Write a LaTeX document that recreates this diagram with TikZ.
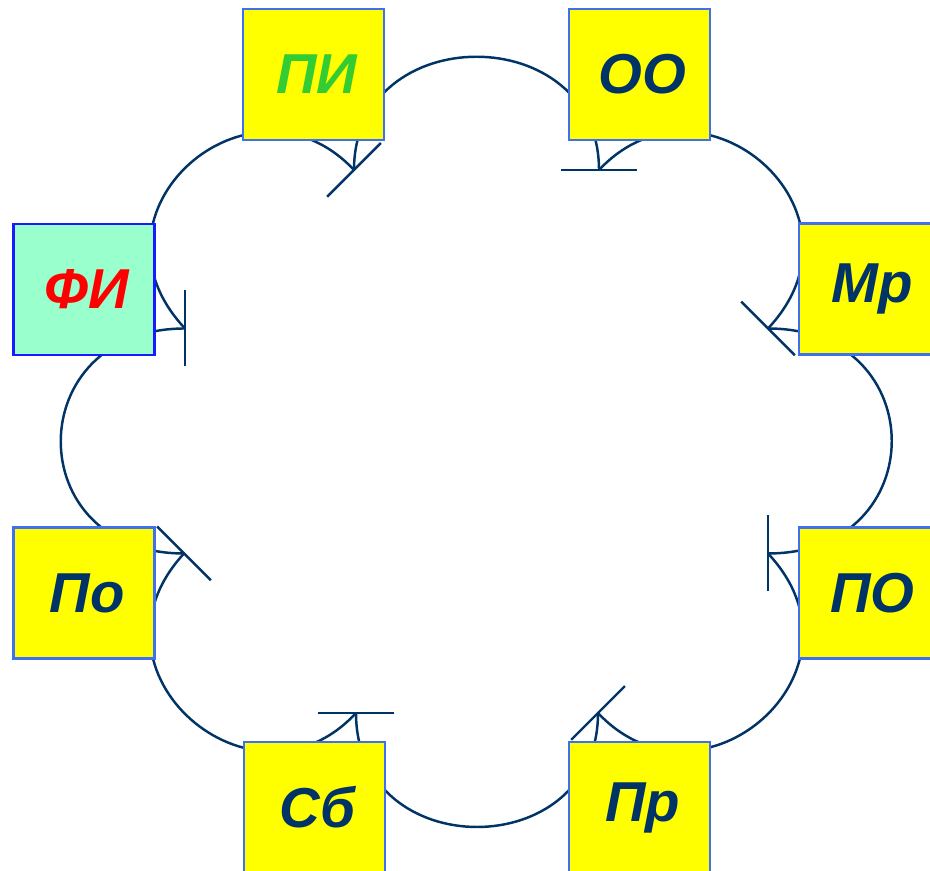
\documentclass[tikz,border=0pt]{standalone}
\usepackage{fontspec}
\setmainfont{Liberation Sans}

\definecolor{navy}{HTML}{003366}
\definecolor{boxline}{HTML}{3F6FF5}
\definecolor{fiblue}{HTML}{1A1AFF}
\definecolor{mint}{HTML}{99FFCC}
\definecolor{pigreen}{HTML}{33CC33}
\definecolor{boxyellow}{HTML}{FFFF00}
\definecolor{fired}{HTML}{FF0000}

\tikzset{
	cloud/.style={draw=navy, line width=0.7pt},
	box/.style={draw=boxline, line width=0.6pt, fill=boxyellow, minimum width=1.41cm, minimum height=1.31cm, inner sep=0pt, font=\fontsize{16}{19}\selectfont\bfseries\itshape},
}

\begin{document}
\begin{tikzpicture}[x=0.01cm, y=-0.01cm]
	\useasboundingbox (0,0) rectangle (930,871);
	\clip (0,0) rectangle (930,871);

	% cusps of the cloud
	\foreach \nm/\x/\y in {t1/354/170, t2/599/170, t3/768/328.5, t4/768/553.5, t5/598/713, t6/356/713, t7/184/553.5, t8/185/328.5} {
		\coordinate (\nm) at (\x,\y);
	}

	% cloud arcs
	\foreach \a/\b/\ang/\ka/\kb in {t1/t2/-90/151/151, t2/t3/-46.8/151/161, t3/t4/0/165/165, t4/t5/46.8/161/151, t5/t6/90/152/152, t6/t7/132.7/151/161, t7/t8/180/165/165, t8/t1/226.8/161/151} {
		\draw[cloud] (\a) .. controls +(\ang:\ka) and +(\ang:\kb) .. (\b);
	}

	% bars at the cusps
	\foreach \nm/\ang in {t1/-45, t2/0, t3/45, t4/90, t5/-45, t6/0, t7/45, t8/90} {
		\draw[cloud] (\nm) ++(\ang:38) -- ++(\ang:-76);
	}

	% boxes
	\foreach \nm/\x/\y/\lbl/\tc in {PI/313.5/74.5/ПИ/pigreen, OO/639.5/74.5/ОО/navy, Mr/869.5/289/Мр/navy, PO/869.5/593/ПО/navy, Pr/639.5/807.5/Пр/navy, Sb/314.5/807.5/Сб/navy, Po/84/593/По/navy} {
		\node[box, text=\tc] (\nm) at (\x,\y) {\hspace{0.06cm}\lbl};
	}
	\node[box, fill=mint, draw=fiblue, text=fired] (FI) at (84,289.5) {\hspace{0.06cm}ФИ};
\end{tikzpicture}
\end{document}
